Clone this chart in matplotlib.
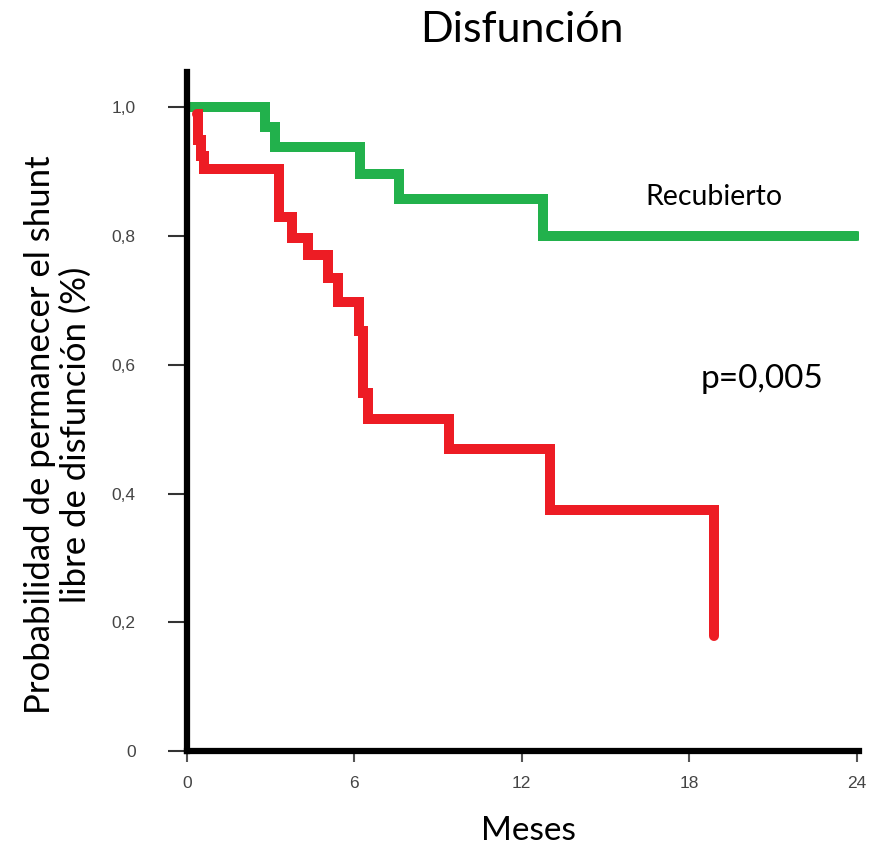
import matplotlib
matplotlib.use("Agg")
import matplotlib.pyplot as plt

# Datos de supervivencia (Kaplan-Meier)
meses_recubierto = [0, 2.78, 3.15, 6.2, 7.6, 12.75, 24.0]
prob_recubierto = [1.0, 0.969, 0.938, 0.896, 0.857, 0.80, 0.80]

meses_no_recubierto = [0.35, 0.4, 0.5, 0.6, 3.3, 3.75, 4.35, 5.05, 5.4,
                       6.15, 6.3, 6.5, 9.4, 13.0, 18.9]
prob_no_recubierto = [0.99, 0.95, 0.925, 0.905, 0.829, 0.797, 0.77, 0.735, 0.698,
                      0.653, 0.556, 0.516, 0.469, 0.375, 0.178]

xticks = [0, 6, 12, 18, 24]
yticks = [0, 0.2, 0.4, 0.6, 0.8, 1.0]
ytick_labels = ["0", "0,2", "0,4", "0,6", "0,8", "1,0"]

VERDE = "#22b14c"
ROJO = "#ed1c24"
FUENTE = ["Lato", "DejaVu Sans"]
FUENTE_EJES = ["Liberation Sans", "DejaVu Sans"]

fig = plt.figure(figsize=(8.8, 8.52), dpi=100)
ax = fig.add_axes([0.2125, 0.1185, 0.764, 0.797])

ax.step(meses_recubierto, prob_recubierto, where="post", color=VERDE, lw=7.2,
        solid_capstyle="round", solid_joinstyle="miter")
ax.step(meses_no_recubierto, prob_no_recubierto, where="post", color=ROJO, lw=7.2,
        solid_capstyle="round", solid_joinstyle="miter")

ax.set_xlim(0, 24.1)
ax.set_ylim(0, 1.055)

for lado in ["top", "right"]:
    ax.spines[lado].set_visible(False)
for lado in ["left", "bottom"]:
    ax.spines[lado].set_linewidth(4.5)
    ax.spines[lado].set_color("black")

ax.set_xticks(xticks)
ax.set_xticklabels([str(t) for t in xticks], family=FUENTE_EJES, fontsize=12.5, color="#444444")
ax.set_yticks(yticks)
ax.set_yticklabels(ytick_labels, family=FUENTE_EJES, fontsize=12.5, color="#444444")
ax.tick_params(axis="y", length=14, width=1.5, color="#333333", pad=23)
ax.tick_params(axis="x", length=8, width=1.5, color="#555555", pad=10)

ax.text(18.9, 0.84, "Recubierto", family=FUENTE, fontsize=20.5, ha="center", va="bottom")
ax.text(20.6, 0.578, "p=0,005", family=FUENTE, fontsize=24, ha="center", va="center")

fig.text(0.593, 0.965, "Disfunción", family=FUENTE, fontsize=31, ha="center", va="center")
fig.text(0.6, 0.025, "Meses", family=FUENTE, fontsize=24, ha="center", va="center")
fig.text(0.066, 0.49, "Probabilidad de permanecer el shunt\nlibre de disfunción (%)",
         family=FUENTE, fontsize=25, ha="center", va="center", rotation=90, linespacing=1.15)

fig.savefig("out.png", dpi=100)
